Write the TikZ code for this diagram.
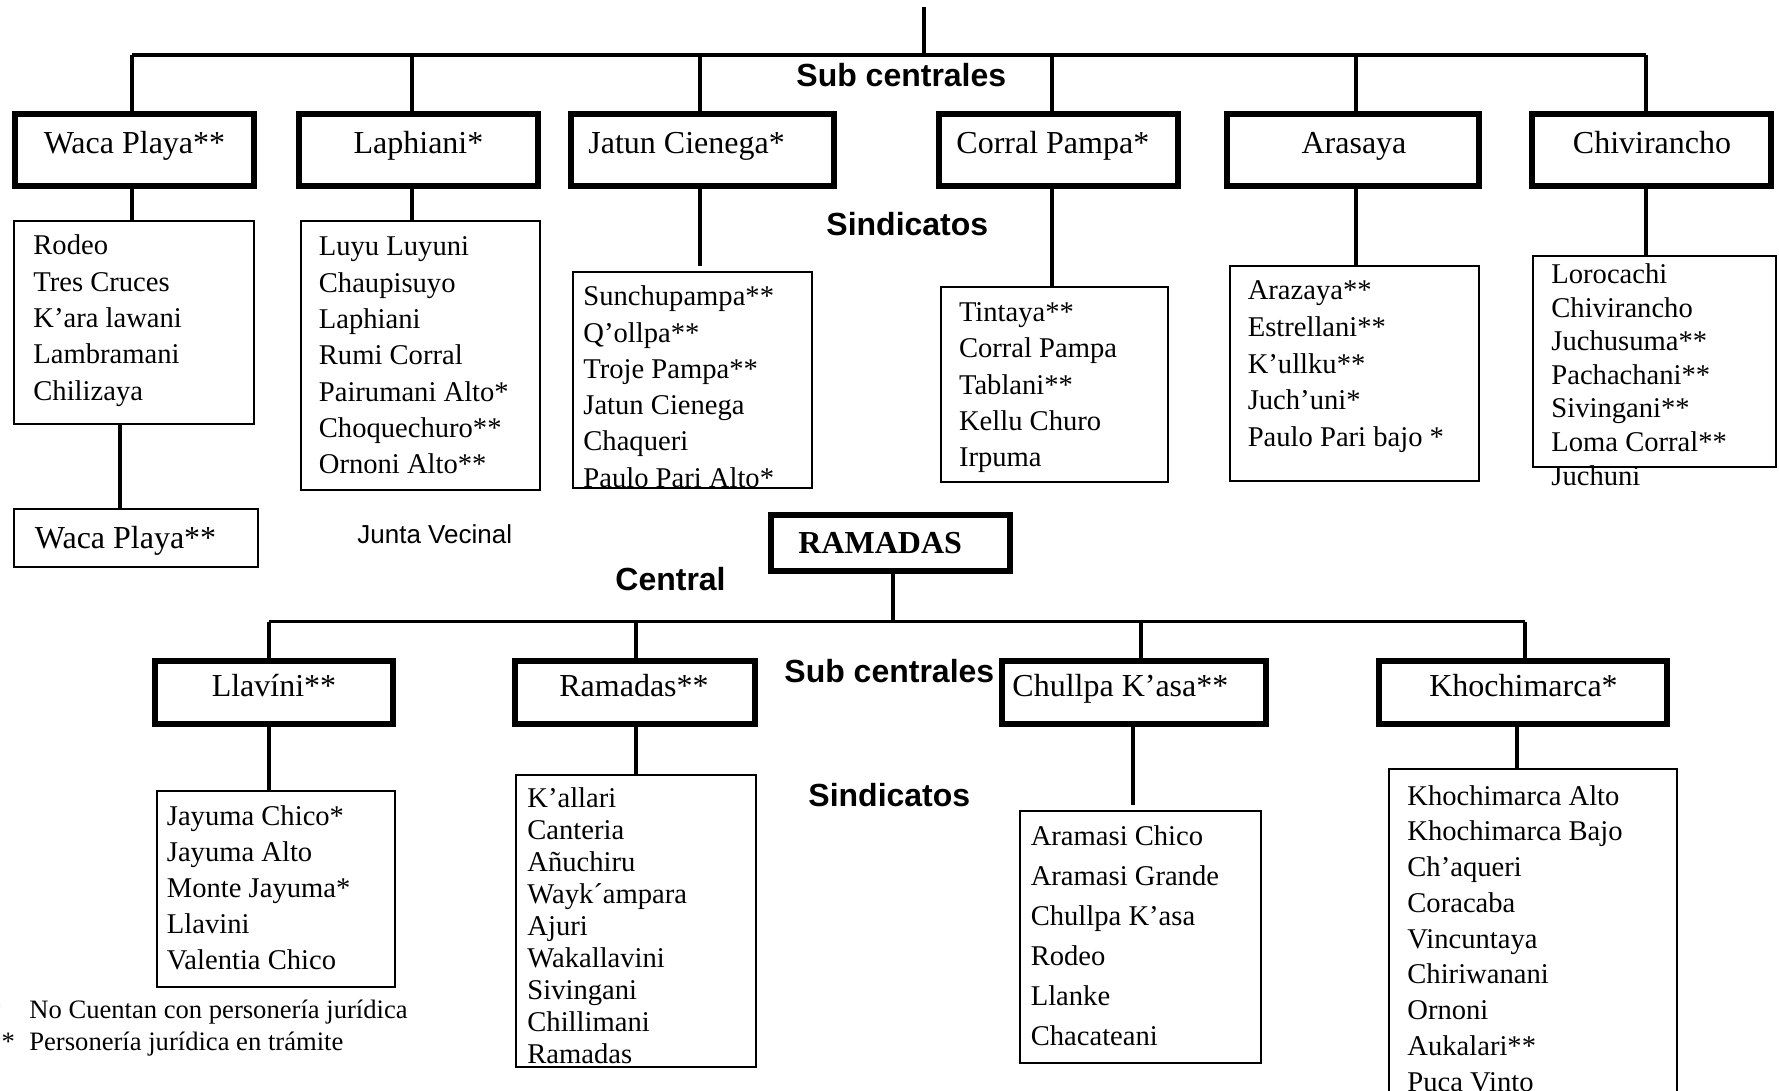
\documentclass[tikz,border=0pt]{standalone}
\usepackage{fontspec}
\setmainfont{Liberation Serif}
\setsansfont{Liberation Sans}
\usetikzlibrary{fit,calc}

\tikzset{
  hub/.style={draw, line width=3pt, inner sep=0pt},
  roster/.style={draw, line width=1.1pt, inner sep=0pt},
  wire/.style={line width=1.6pt},
  head/.style={font=\fontsize{16}{19}\selectfont, inner sep=0pt, anchor=base},
  headw/.style={head, anchor=base west},
  item/.style={font=\fontsize{14.3}{17}\selectfont, inner sep=0pt, anchor=base west},
  tier/.style={font=\sffamily\bfseries\fontsize{16}{19}\selectfont, inner sep=0pt, anchor=base west},
  note/.style={font=\fontsize{13.3}{16}\selectfont, inner sep=0pt, anchor=base west},
}

% one text line per node: name, left x, first baseline, line step, entries
\newcommand\roll[5]{%
  \foreach \entry [count=\i from 0] in {#5} {%
    \node[item] (#1-\i) at (#2,{#3+\i*#4}) {\entry};
  }%
}

\begin{document}
\begin{tikzpicture}[x=0.5pt,y=-0.5pt]
\useasboundingbox (0,0) rectangle (1779,1091);
\clip (0,0) rectangle (1779,1091);

% ---------- upper tree ----------
\coordinate (root) at (924,7);
\coordinate (tWP) at (132,55);
\coordinate (tLA) at (412,55);
\coordinate (tJC) at (700,55);
\coordinate (tCP) at (1052,55);
\coordinate (tAR) at (1356,55);
\coordinate (tCH) at (1646,55);

\node[tier] (subT) at (796,87) {Sub centrales};
\node[tier] (sinT) at (826,236) {Sindicatos};

% sub-central boxes
\node[hub, fit={(15,114) (254,186)}] (wp) {};
\node[hub, fit={(299,114) (538,186)}] (la) {};
\node[hub, fit={(571,114) (834,186)}] (jc) {};
\node[hub, fit={(939,114) (1178,186)}] (cp) {};
\node[hub, fit={(1227,114) (1479,186)}] (ar) {};
\node[hub, fit={(1532,114) (1771,186)}] (ch) {};

\node[head]  (wp-t) at (134.5,154) {Waca Playa**};
\node[head]  (la-t) at (418.5,154) {Laphiani*};
\node[headw] (jc-t) at (588,154) {Jatun Cienega*};
\node[headw] (cp-t) at (956,154) {Corral Pampa*};
\node[head]  (ar-t) at (1354,154) {Arasaya};
\node[head]  (ch-t) at (1652,154) {Chivirancho};

% sindicato lists
\node[roster, fit={(14,221) (254,424)}] (wpl) {};
\node[roster, fit={(301,221) (540,490)}] (lal) {};
\node[roster, fit={(573,272) (812,488)}] (jcl) {};
\node[roster, fit={(941,287) (1168,482)}] (cpl) {};
\node[roster, fit={(1230,266) (1479,481)}] (arl) {};
\node[roster, fit={(1533,256) (1776,467)}] (chl) {};

\roll{wpl}{33}{255}{36.3}{Rodeo,Tres Cruces,K’ara lawani,Lambramani,Chilizaya}
\roll{lal}{318.5}{256}{36.3}{Luyu Luyuni,Chaupisuyo,Laphiani,Rumi Corral,Pairumani Alto*,Choquechuro**,Ornoni Alto**}
\roll{jcl}{583}{305.8}{36.3}{Sunchupampa**,Q’ollpa**,Troje Pampa**,Jatun Cienega,Chaqueri,Paulo Pari Alto*}
\roll{cpl}{958.6}{321.4}{36.3}{Tintaya**,Corral Pampa,Tablani**,Kellu Churo,Irpuma}
\roll{arl}{1247.4}{300}{36.5}{Arazaya**,Estrellani**,K’ullku**,Juch’uni*,Paulo Pari bajo *}
\roll{chl}{1551}{283.5}{33.6}{Lorocachi,Chivirancho,Juchusuma**,Pachachani**,Sivingani**,Loma Corral**,Juchuni}

% junta vecinal
\node[roster, fit={(14,509) (258,567)}] (wpb) {};
\node[item] (wpb-t) at (34.5,548) {\fontsize{16}{19}\selectfont Waca Playa**};
\node[font=\sffamily\fontsize{13}{16}\selectfont, inner sep=0pt, anchor=base west] (jv) at (357,543) {Junta Vecinal};

% upper connectors
\draw[wire] (root) -- (root |- tWP);
\draw[wire] (tWP) -- (tCH);
\draw[wire] (tWP) -- (tWP |- wp.north);
\draw[wire] (tLA) -- (tLA |- la.north);
\draw[wire] (tJC) -- (tJC |- jc.north);
\draw[wire] (tCP) -- (tCP |- cp.north);
\draw[wire] (tAR) -- (tAR |- ar.north);
\draw[wire] (tCH) -- (tCH |- ch.north);

\draw[wire] (tWP |- wp.south) -- (tWP |- wpl.north);
\draw[wire] (tLA |- la.south) -- (tLA |- lal.north);
\draw[wire] (tJC |- jc.south) -- ($(tJC |- jcl.north)+(0,-5)$);
\draw[wire] (tCP |- cp.south) -- (tCP |- cpl.north);
\draw[wire] (tAR |- ar.south) -- (tAR |- arl.north);
\draw[wire] (tCH |- ch.south) -- (tCH |- chl.north);

\coordinate (xWP) at (120,470);
\draw[wire] (xWP |- wpl.south) -- (xWP |- wpb.north);

% ---------- lower tree ----------
\node[hub, fit={(771,515) (1010,571)}] (ram) {};
\node[font=\bfseries\fontsize{16}{19}\selectfont, inner sep=0pt, anchor=base west] (ram-t) at (798,553) {RAMADAS};
\node[tier] (cen) at (615,590) {Central};

\coordinate (tRM) at (893,621.5);
\coordinate (tLV) at (269,621.5);
\coordinate (tRA) at (636,621.5);
\coordinate (tCU) at (1141,621.5);
\coordinate (tKH) at (1525,621.5);

\node[tier] (subB) at (784,682) {Sub centrales};
\node[tier] (sinB) at (808,806) {Sindicatos};

\node[hub, fit={(155,661) (393,724)}] (lv) {};
\node[hub, fit={(515,661) (755,724)}] (ra) {};
\node[hub, fit={(1002,661) (1266,724)}] (cu) {};
\node[hub, fit={(1379,661) (1667,724)}] (kh) {};

\node[head]  (lv-t) at (274,696) {Llavíni**};
\node[head]  (ra-t) at (634,696) {Ramadas**};
\node[headw] (cu-t) at (1012,696) {Chullpa K’asa**};
\node[head]  (kh-t) at (1523.5,696) {Khochimarca*};

\node[roster, fit={(157,791) (395,987)}] (lvl) {};
\node[roster, fit={(516,775) (756,1067)}] (ral) {};
\node[roster, fit={(1020,811) (1261,1063)}] (cul) {};
\node[roster, fit={(1389,769) (1677,1120)}] (khl) {};

\roll{lvl}{166.5}{825}{36.2}{Jayuma Chico*,Jayuma Alto,Monte Jayuma*,Llavini,Valentia Chico}
\roll{ral}{527}{807}{32.05}{K’allari,Canteria,Añuchiru,Wayk´ampara,Ajuri,Wakallavini,Sivingani,Chillimani,Ramadas}
\roll{cul}{1030.4}{845}{40.1}{Aramasi Chico,Aramasi Grande,Chullpa K’asa,Rodeo,Llanke,Chacateani}
\roll{khl}{1407}{805}{35.75}{Khochimarca Alto,Khochimarca Bajo,Ch’aqueri,Coracaba,Vincuntaya,Chiriwanani,Ornoni,Aukalari**,Puca Vinto}

% lower connectors
\draw[wire] (ram.south -| tRM) -- (tRM);
\draw[wire] (tLV) -- (tKH);
\draw[wire] (tLV) -- (tLV |- lv.north);
\draw[wire] (tRA) -- (tRA |- ra.north);
\draw[wire] (tCU) -- (tCU |- cu.north);
\draw[wire] (tKH) -- (tKH |- kh.north);

\coordinate (xCU) at (1133,760);
\coordinate (xKH) at (1517,760);
\draw[wire] (tLV |- lv.south) -- (tLV |- lvl.north);
\draw[wire] (tRA |- ra.south) -- (tRA |- ral.north);
\draw[wire] (xCU |- cu.south) -- ($(xCU |- cul.north)+(0,-5)$);
\draw[wire] (xKH |- kh.south) -- (xKH |- khl.north);

% ---------- legend ----------
\node[note] (k1) at (-12,1018) {*};
\node[note] (k2) at (-12,1050) {**};
\node[note] (l1) at (29,1018) {No Cuentan con personería jurídica};
\node[note] (l2) at (29,1050) {Personería jurídica en trámite};
\end{tikzpicture}
\end{document}
